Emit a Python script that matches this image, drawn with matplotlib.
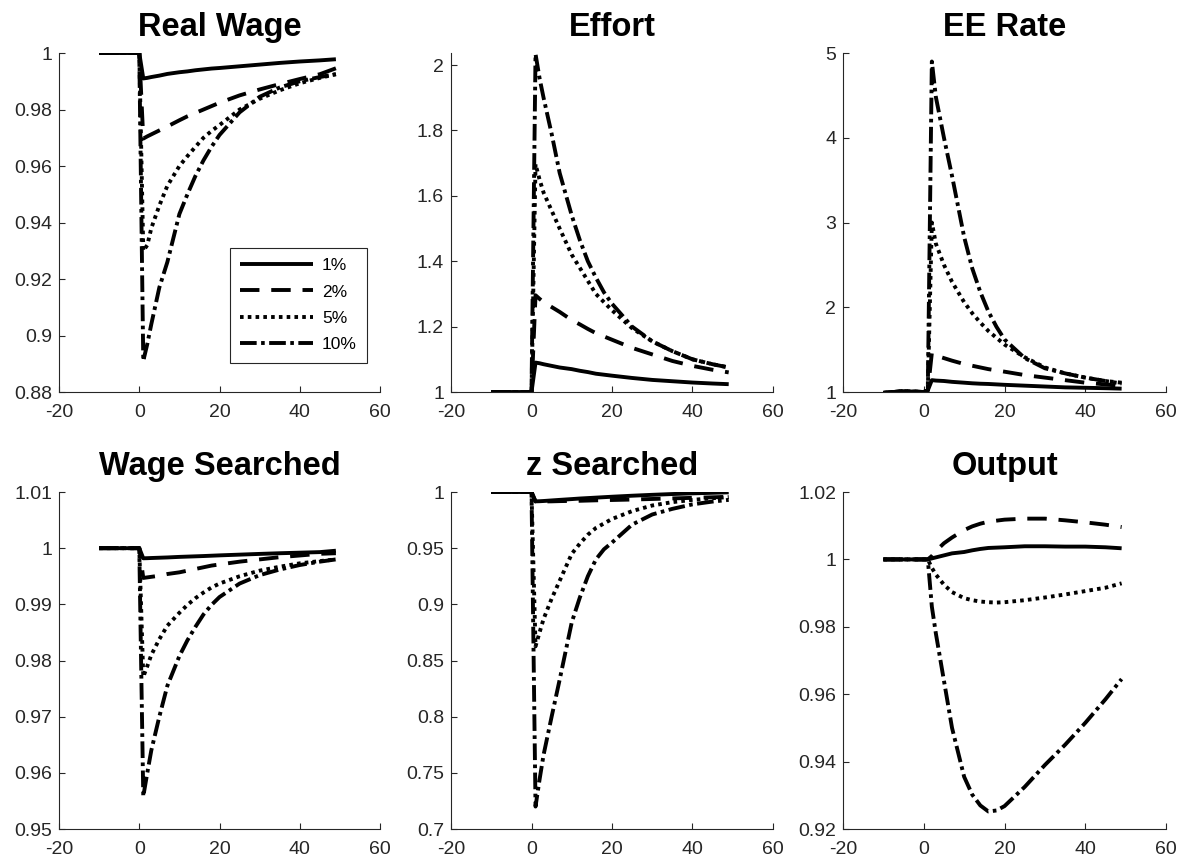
import numpy as np
import matplotlib
matplotlib.use('Agg')
import matplotlib.pyplot as plt
from matplotlib.ticker import FuncFormatter, MultipleLocator

plt.rcParams['font.family'] = ['Liberation Sans', 'DejaVu Sans']
plt.rcParams['axes.unicode_minus'] = False
plt.rcParams['lines.scale_dashes'] = False

# 時間軸（衝擊發生在 t=0）
periods = [-10, -5, 0, 1, 2, 3, 5, 7, 10, 12, 14, 16, 18, 20, 25, 30, 35, 40, 45, 49]
shock_labels = ['1%', '2%', '5%', '10%']
titles = ['Real Wage', 'Effort', 'EE Rate', 'Wage Searched', 'z Searched', 'Output']

# 1. Real Wage
real_wage_1 = [1, 1, 1, 0.9910, 0.9912, 0.9915, 0.9920, 0.9926, 0.9932, 0.9935, 0.9939, 0.9942, 0.9945, 0.9947, 0.9953, 0.9959, 0.9965, 0.9970, 0.9974, 0.9978]
real_wage_2 = [1, 1, 1, 0.9697, 0.9705, 0.9712, 0.9726, 0.9740, 0.9762, 0.9776, 0.9788, 0.9800, 0.9812, 0.9824, 0.9850, 0.9871, 0.9890, 0.9908, 0.9925, 0.9946]
real_wage_5 = [1, 1, 1, 0.9300, 0.9320, 0.9380, 0.9460, 0.9530, 0.9600, 0.9635, 0.9668, 0.9700, 0.9724, 0.9745, 0.9800, 0.9838, 0.9868, 0.9893, 0.9912, 0.9925]
real_wage_10 = [1, 1, 1, 0.8910, 0.8970, 0.9040, 0.9170, 0.9260, 0.9430, 0.9500, 0.9565, 0.9620, 0.9668, 0.9710, 0.9790, 0.9845, 0.9878, 0.9900, 0.9915, 0.9925]

# 2. Effort
effort_1 = [1, 1, 1, 1.090, 1.088, 1.085, 1.080, 1.075, 1.070, 1.065, 1.061, 1.056, 1.053, 1.050, 1.043, 1.037, 1.033, 1.029, 1.026, 1.024]
effort_2 = [1, 1, 1, 1.296, 1.285, 1.275, 1.260, 1.245, 1.220, 1.207, 1.193, 1.180, 1.170, 1.160, 1.135, 1.115, 1.095, 1.080, 1.068, 1.060]
effort_5 = [1, 1, 1, 1.697, 1.650, 1.610, 1.555, 1.500, 1.420, 1.380, 1.340, 1.300, 1.275, 1.250, 1.195, 1.155, 1.125, 1.100, 1.085, 1.075]
effort_10 = [1, 1, 1, 2.034, 1.960, 1.900, 1.790, 1.670, 1.540, 1.465, 1.400, 1.350, 1.305, 1.270, 1.200, 1.155, 1.125, 1.100, 1.085, 1.075]

# 3. EE Rate
ee_1 = [0.99, 1.01, 1.0, 1.02, 1.14, 1.135, 1.13, 1.12, 1.11, 1.103, 1.098, 1.095, 1.09, 1.085, 1.075, 1.065, 1.055, 1.05, 1.045, 1.04]
ee_2 = [0.99, 1.01, 1.0, 1.02, 1.46, 1.43, 1.40, 1.37, 1.33, 1.31, 1.29, 1.27, 1.255, 1.24, 1.20, 1.17, 1.14, 1.11, 1.09, 1.07]
ee_5 = [0.99, 1.01, 1.0, 1.02, 3.00, 2.75, 2.50, 2.30, 2.06, 1.93, 1.82, 1.72, 1.64, 1.56, 1.41, 1.29, 1.22, 1.17, 1.13, 1.10]
ee_10 = [0.99, 1.01, 1.0, 1.02, 4.90, 4.48, 4.00, 3.55, 2.83, 2.46, 2.18, 1.95, 1.77, 1.62, 1.40, 1.28, 1.22, 1.17, 1.13, 1.11]

# 4. Wage Searched
wsearch_1 = [1, 1, 1, 0.99820, 0.99822, 0.99825, 0.99830, 0.99835, 0.99845, 0.99850, 0.99855, 0.99860, 0.99866, 0.99872, 0.99885, 0.99898, 0.99910, 0.99920, 0.99930, 0.99955]
wsearch_2 = [1, 1, 1, 0.9947, 0.9948, 0.9949, 0.9951, 0.9954, 0.9957, 0.9960, 0.9963, 0.9966, 0.9969, 0.9971, 0.9976, 0.9980, 0.9984, 0.9987, 0.9990, 0.9991]
wsearch_5 = [1, 1, 1, 0.9771, 0.9790, 0.9810, 0.9838, 0.9862, 0.9885, 0.9899, 0.9911, 0.9921, 0.9930, 0.9937, 0.9950, 0.9960, 0.9967, 0.9973, 0.9977, 0.9980]
wsearch_10 = [1, 1, 1, 0.9558, 0.9600, 0.9640, 0.9700, 0.9755, 0.9808, 0.9836, 0.9860, 0.9882, 0.9899, 0.9913, 0.9937, 0.9952, 0.9962, 0.9970, 0.9976, 0.9980]

# 5. z Searched
zsearch_1 = [1, 1, 1, 0.9917, 0.9918, 0.9920, 0.9925, 0.9930, 0.9937, 0.9942, 0.9946, 0.9950, 0.9954, 0.9958, 0.9967, 0.9975, 0.9982, 0.9988, 0.9993, 0.9997]
zsearch_2 = [1, 1, 1, 0.9915, 0.9915, 0.9916, 0.9917, 0.9919, 0.9921, 0.9922, 0.9924, 0.9926, 0.9928, 0.9929, 0.9933, 0.9938, 0.9943, 0.9948, 0.9953, 0.9957]
zsearch_5 = [1, 1, 1, 0.8626, 0.875, 0.887, 0.905, 0.921, 0.945, 0.954, 0.962, 0.968, 0.972, 0.976, 0.983, 0.988, 0.991, 0.993, 0.9945, 0.9955]
zsearch_10 = [1, 1, 1, 0.720, 0.744, 0.766, 0.800, 0.833, 0.884, 0.906, 0.925, 0.940, 0.949, 0.955, 0.971, 0.980, 0.985, 0.989, 0.9915, 0.993]

# 6. Output
output_1 = [1, 1, 1, 1.0, 1.0003, 1.0006, 1.0012, 1.0018, 1.0022, 1.0027, 1.0031, 1.0034, 1.0035, 1.0036, 1.0039, 1.0039, 1.0038, 1.0038, 1.0036, 1.0033]
output_2 = [1, 1, 1, 1.0, 1.0010, 1.0025, 1.0048, 1.0065, 1.0087, 1.0098, 1.0106, 1.0112, 1.0115, 1.0118, 1.0121, 1.0121, 1.0116, 1.0110, 1.0103, 1.0096]
output_5 = [1, 1, 1, 1.0, 0.9975, 0.9955, 0.9925, 0.9903, 0.9885, 0.9879, 0.9875, 0.9873, 0.9872, 0.9873, 0.9879, 0.9887, 0.9896, 0.9906, 0.9916, 0.9929]
output_10 = [1, 1, 1, 1.0, 0.986, 0.978, 0.964, 0.950, 0.9355, 0.9302, 0.9270, 0.9252, 0.9255, 0.9268, 0.9325, 0.939, 0.945, 0.9515, 0.9585, 0.9645]

panels = [
    [real_wage_1, real_wage_2, real_wage_5, real_wage_10],
    [effort_1, effort_2, effort_5, effort_10],
    [ee_1, ee_2, ee_5, ee_10],
    [wsearch_1, wsearch_2, wsearch_5, wsearch_10],
    [zsearch_1, zsearch_2, zsearch_5, zsearch_10],
    [output_1, output_2, output_5, output_10],
]
ylims = [(0.88, 1.0), (1.0, 2.037), (1.0, 5.0), (0.95, 1.01), (0.7, 1.0), (0.92, 1.02)]
ysteps = [0.02, 0.2, 1, 0.01, 0.05, 0.02]

# 線型：實線、虛線、點線、點劃線
styles = [(0, ()), (0, (14, 8.5)), (0, (2.6, 3.0)), (0, (12, 3.2, 2.6, 3.2))]

fig = plt.figure(figsize=(11.85, 8.65), dpi=100)
lefts = [0.0498, 0.3806, 0.7114]
widths = [0.2709, 0.2717, 0.2726]
bottoms = [0.5468, 0.0416]
heights = [0.3919, 0.3896]

fmt = FuncFormatter(lambda v, p: '%g' % round(v, 4))
gray = '#262626'

for k in range(6):
    r, c = divmod(k, 3)
    ax = fig.add_axes([lefts[c], bottoms[r], widths[c], heights[r]])
    for s in range(4):
        ax.plot(periods, panels[k][s], color='black', lw=2.8, linestyle=styles[s],
                dash_capstyle='butt', label=shock_labels[s])
    ax.set_xlim(-20, 60)
    ax.set_ylim(*ylims[k])
    ax.xaxis.set_major_locator(MultipleLocator(20))
    ax.yaxis.set_major_locator(MultipleLocator(ysteps[k]))
    ax.yaxis.set_major_formatter(fmt)
    ax.xaxis.set_major_formatter(fmt)
    ax.spines['top'].set_visible(False)
    ax.spines['right'].set_visible(False)
    for side in ['left', 'bottom']:
        ax.spines[side].set_color(gray)
        ax.spines[side].set_linewidth(0.8)
    ax.tick_params(direction='in', length=4, width=0.8, colors=gray, labelsize=14)
    ax.tick_params(axis='x', pad=8.5)
    ax.tick_params(axis='y', pad=5)
    ax.set_title(titles[k], fontsize=23.5, fontweight='bold', pad=12)
    if k == 0:
        leg = ax.legend(loc='lower right', bbox_to_anchor=(0.960, 0.086), borderaxespad=0,
                        fontsize=12.5, handlelength=4.2, handletextpad=0.5,
                        labelspacing=0.65, borderpad=0.6, fancybox=False, framealpha=1)
        leg.get_frame().set_edgecolor(gray)
        leg.get_frame().set_linewidth(0.8)

plt.savefig('out.png', dpi=100)
